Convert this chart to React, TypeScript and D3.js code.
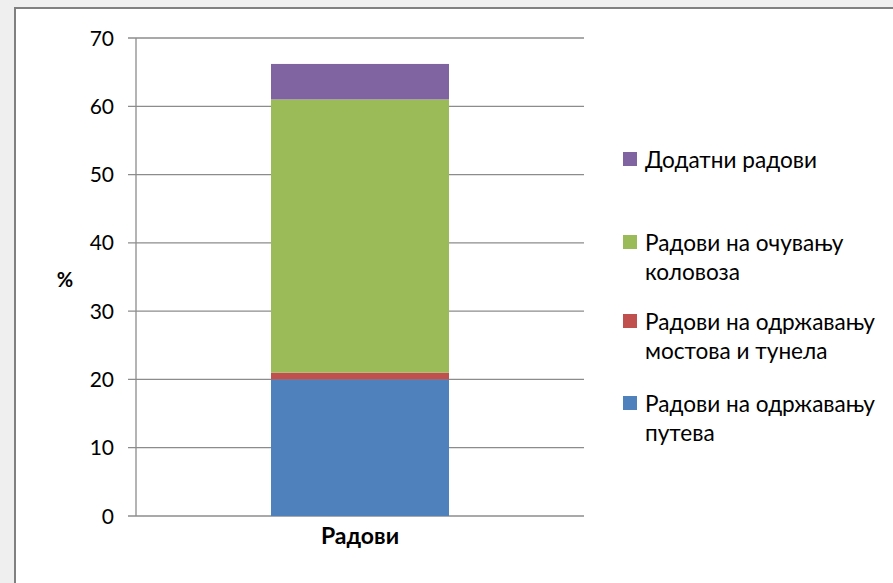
import React from "react";
import * as d3 from "d3";

const categories = ["Радови"];
const seriesNames = [
  "Радови на одржавању путева",
  "Радови на одржавању мостова и тунела",
  "Радови на очувању коловоза",
  "Додатни радови",
];
const seriesValues = [20, 1, 40, 5.2];
const seriesColors = ["#4f81bd", "#c0504d", "#9bbb59", "#8064a2"];
const legendLines = [
  ["Додатни радови"],
  ["Радови на очувању", "коловоза"],
  ["Радови на одржавању", "мостова и тунела"],
  ["Радови на одржавању", "путева"],
];
const legendOrder = [3, 2, 1, 0];
const yTicks = [0, 10, 20, 30, 40, 50, 60, 70];

const W = 893;
const H = 583;
const FONT = "Lato, 'Open Sans', sans-serif";

export default function App() {
  const x = d3.scaleBand().domain(categories).range([136, 584]).paddingInner(0.6).paddingOuter(0.3);
  const y = d3.scaleLinear().domain([0, 70]).range([516, 38]);
  const stackData = [
    Object.fromEntries(seriesNames.map((n, i) => [n, seriesValues[i]])),
  ];
  const stacked = d3.stack<any>().keys(seriesNames)(stackData as any);
  const bw = 178;
  const legendY = [160, 243, 322, 404];

  return (
    <div style={{ position: "absolute", left: 0, top: 0 }}>
      <svg width={W} height={H} style={{ display: "block" }}>
        <rect x={0} y={0} width={W} height={H} fill="#efefef" />
        <rect x={15} y={8} width={W + 20} height={H + 20} fill="#ffffff" stroke="#808080" strokeWidth={2} />
        {yTicks.map((t) => (
          <g key={t}>
            <line x1={128} x2={584} y1={y(t)} y2={y(t)} stroke="#8c8c8c" strokeWidth={1.3} />
            <text x={114} y={y(t)} dy="0.36em" textAnchor="end" fontFamily={FONT} fontSize={21} fill="#000">
              {t}
            </text>
          </g>
        ))}
        <line x1={136} x2={136} y1={38} y2={516} stroke="#8c8c8c" strokeWidth={1.3} />
        {stacked.map((s, i) =>
          s.map((d, j) => {
            const cx = (x(categories[j]) as number) + x.bandwidth() / 2;
            return (
              <rect
                key={i + "-" + j}
                x={cx - bw / 2}
                y={y(d[1])}
                width={bw}
                height={y(d[0]) - y(d[1])}
                fill={seriesColors[i]}
              />
            );
          })
        )}
        {categories.map((c) => (
          <text
            key={c}
            x={(x(c) as number) + x.bandwidth() / 2}
            y={544}
            textAnchor="middle"
            fontFamily={FONT}
            fontWeight="bold"
            fontSize={23}
            fill="#000"
          >
            {c}
          </text>
        ))}
        <text x={65} y={287} textAnchor="middle" fontFamily={FONT} fontWeight="bold" fontSize={20} fill="#000">
          %
        </text>
        {legendOrder.map((si, k) => {
          const lines = legendLines[k];
          const cy = legendY[k];
          return (
            <g key={si}>
              <rect x={623} y={cy - 8} width={14} height={14} fill={seriesColors[si]} />
              {lines.map((ln, li) => (
                <text
                  key={li}
                  x={645}
                  y={cy + li * 29}
                  dy="0.35em"
                  fontFamily={FONT}
                  fontSize={22.6}
                  fill="#000"
                >
                  {ln}
                </text>
              ))}
            </g>
          );
        })}
      </svg>
    </div>
  );
}
